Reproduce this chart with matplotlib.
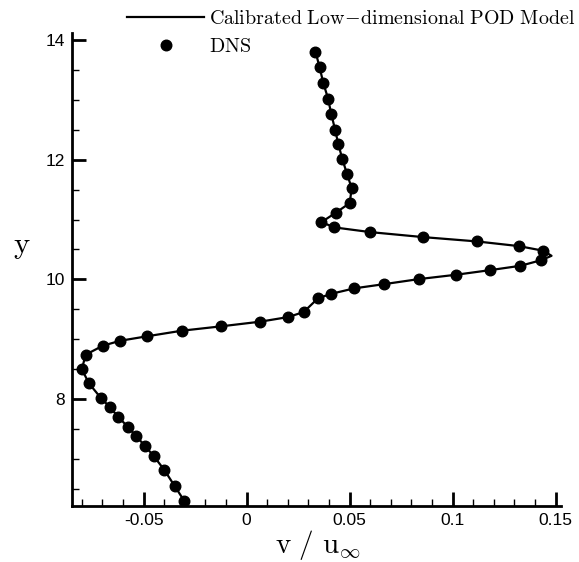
import matplotlib
matplotlib.use("Agg")
import matplotlib.pyplot as plt
from matplotlib.ticker import MultipleLocator

# DNS samples of v/u_inf along y
dns_v = [0.0334, 0.0354, 0.0372, 0.0395, 0.0411, 0.0429, 0.0445, 0.0465, 0.0487, 0.0510,
         0.0500, 0.0432, 0.0363, 0.0426, 0.0601, 0.0856, 0.1116, 0.1322, 0.1441, 0.1431,
         0.1329, 0.1183, 0.1016, 0.0837, 0.0669, 0.0523, 0.0411, 0.0346, 0.0277, 0.0202,
         0.0065, -0.0123, -0.0316, -0.0484, -0.0613, -0.0698, -0.0782, -0.0800, -0.0766, -0.0709,
         -0.0665, -0.0623, -0.0578, -0.0536, -0.0494, -0.0452, -0.0400, -0.0350, -0.0304]
dns_y = [13.81, 13.547, 13.285, 13.024, 12.762, 12.506, 12.261, 12.005, 11.764, 11.525,
         11.275, 11.113, 10.957, 10.869, 10.790, 10.707, 10.635, 10.556, 10.478, 10.322,
         10.227, 10.155, 10.077, 10.005, 9.921, 9.850, 9.759, 9.683, 9.454, 9.370,
         9.292, 9.215, 9.141, 9.048, 8.974, 8.891, 8.740, 8.496, 8.262, 8.022,
         7.866, 7.699, 7.537, 7.377, 7.215, 7.048, 6.814, 6.546, 6.301]

# calibrated POD model (same stations, plus the sharp tip near y=10.4)
pod_v = [0.0334, 0.0354, 0.0372, 0.0395, 0.0411, 0.0429, 0.0445, 0.0465, 0.0487, 0.0510,
         0.0500, 0.0432, 0.0363, 0.0426, 0.0601, 0.0856, 0.1116, 0.1322, 0.1441, 0.1480, 0.1431,
         0.1329, 0.1183, 0.1016, 0.0837, 0.0669, 0.0523, 0.0411, 0.0346, 0.0277, 0.0202,
         0.0065, -0.0123, -0.0316, -0.0484, -0.0613, -0.0698, -0.0782, -0.0800, -0.0766, -0.0709,
         -0.0665, -0.0623, -0.0578, -0.0536, -0.0494, -0.0452, -0.0400, -0.0350, -0.0304, -0.0290]
pod_y = [13.81, 13.547, 13.285, 13.024, 12.762, 12.506, 12.261, 12.005, 11.764, 11.525,
         11.275, 11.113, 10.957, 10.869, 10.790, 10.707, 10.635, 10.556, 10.478, 10.394, 10.322,
         10.227, 10.155, 10.077, 10.005, 9.921, 9.850, 9.759, 9.683, 9.454, 9.370,
         9.292, 9.215, 9.141, 9.048, 8.974, 8.891, 8.740, 8.496, 8.262, 8.022,
         7.866, 7.699, 7.537, 7.377, 7.215, 7.048, 6.814, 6.546, 6.301, 6.25]

plt.rcParams['mathtext.fontset'] = 'cm'

fig = plt.figure(figsize=(5.79, 5.62), dpi=100)
ax = fig.add_axes([72/579, 1 - 506/562, (561-72)/579, (506-33)/562])

ax.plot(pod_v, pod_y, '-', color='black', lw=1.6,
        label=r'$\mathrm{Calibrated\ Low\!-\!dimensional\ POD\ Model}$')
ax.plot(dns_v, dns_y, 'o', color='black', ms=7.6, ls='none', label=r'$\mathrm{DNS}$')

ax.set_xlim(-0.0848, 0.1526)
ax.set_ylim(6.21, 14.12)

for s in ['top', 'right']:
    ax.spines[s].set_visible(False)
for s in ['left', 'bottom']:
    ax.spines[s].set_linewidth(2)

ax.xaxis.set_major_locator(MultipleLocator(0.05))
ax.xaxis.set_minor_locator(MultipleLocator(0.01))
ax.yaxis.set_major_locator(MultipleLocator(2))
ax.yaxis.set_minor_locator(MultipleLocator(0.5))
ax.tick_params(which='major', direction='in', length=10, width=2, labelsize=12.5, pad=5)
ax.tick_params(which='minor', direction='in', length=5, width=1)
ax.set_xticks([-0.05, 0, 0.05, 0.1, 0.15])
ax.set_xticklabels(['-0.05', '0', '0.05', '0.1', '0.15'], family='Liberation Sans')
ax.set_yticks([8, 10, 12, 14])
ax.set_yticklabels(['8', '10', '12', '14'], family='Liberation Sans')

ax.set_xlabel(r'$\mathrm{v\ /\ u_{\infty}}$', fontsize=21, va='center')
ax.xaxis.set_label_coords(0.503, -0.082)
ax.set_ylabel(r'$\mathrm{y}$', fontsize=22, rotation=0, ha='center', va='center')
ax.yaxis.set_label_coords(-0.103, 0.548)

ax.legend(loc='upper left', bbox_to_anchor=(127/579, 1 - 9/562), bbox_transform=fig.transFigure,
          frameon=False, fontsize=14.4, handlelength=3.85, handletextpad=0.25,
          borderpad=0, borderaxespad=0, labelspacing=0.45)

fig.savefig('out.png', dpi=100)
